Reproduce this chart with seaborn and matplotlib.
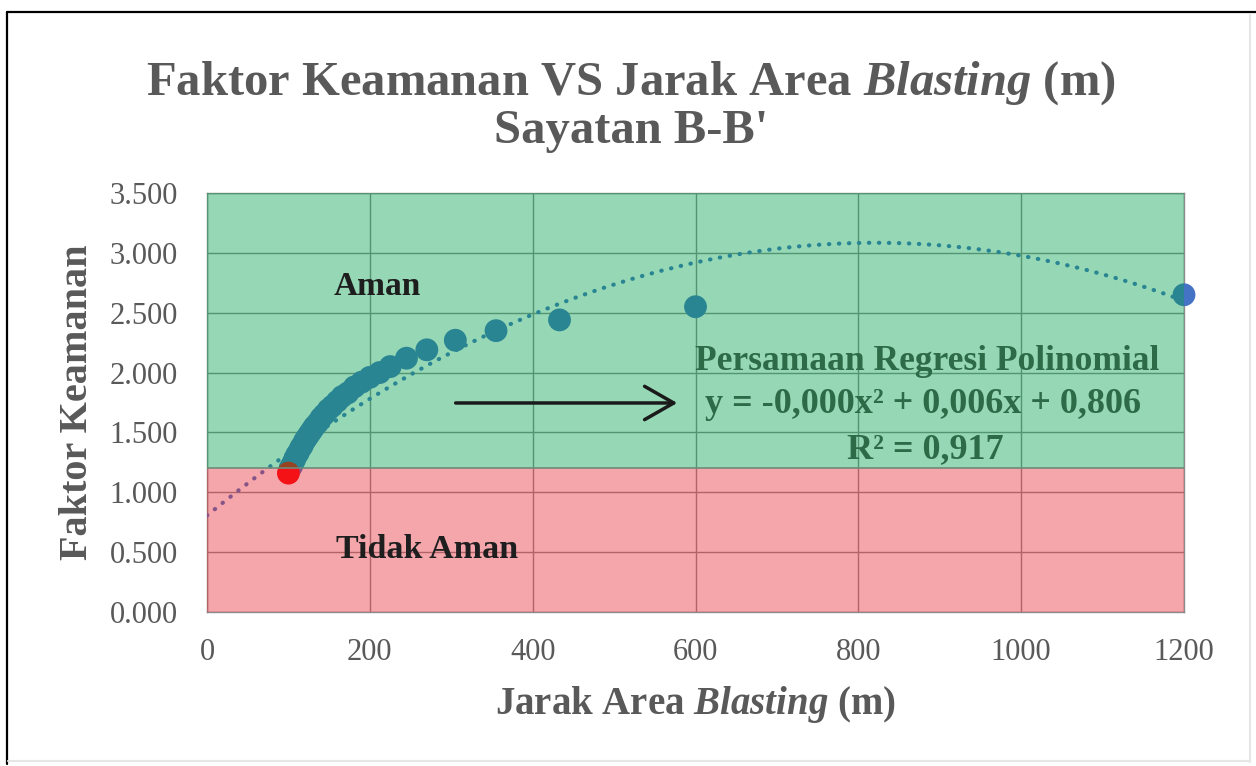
import numpy as np
import pandas as pd
import matplotlib
matplotlib.use('Agg')
import matplotlib.pyplot as plt
from matplotlib.lines import Line2D
import seaborn as sns

# data (jarak in m, faktor keamanan)
jarak = [1200, 600, 433, 355, 305, 270, 245, 225, 212, 200, 190, 181, 173, 166,
         160, 154, 149, 144, 140, 136, 132, 129, 126, 123, 120, 117, 115, 112,
         110, 108, 106, 104, 102]
fk = [2.65, 2.55, 2.44, 2.35, 2.27, 2.19, 2.12, 2.05, 2.00, 1.96, 1.92, 1.88, 1.83, 1.80,
      1.76, 1.72, 1.69, 1.65, 1.62, 1.58, 1.55, 1.52, 1.49, 1.46, 1.43, 1.39, 1.37, 1.33,
      1.31, 1.28, 1.25, 1.22, 1.20]
jarak_kritis = [100]
fk_kritis = [1.16]

# polynomial trendline y = a x^2 + b x + c (shown rounded on chart)
trend_coef = [-3.38e-6, 0.00555, 0.806]
batas_aman = 1.2

x_ticks = [0, 200, 400, 600, 800, 1000, 1200]
y_ticks = [0.0, 0.5, 1.0, 1.5, 2.0, 2.5, 3.0, 3.5]
y_ticklabels = [f'{v:.3f}' for v in y_ticks]

sns.set_theme(style='white')
plt.rcParams['font.family'] = ['Liberation Serif', 'DejaVu Serif']
plt.rcParams['mathtext.fontset'] = 'custom'
plt.rcParams['mathtext.rm'] = 'Liberation Serif:bold'
plt.rcParams['mathtext.bf'] = 'Liberation Serif:bold'
plt.rcParams['mathtext.it'] = 'Liberation Serif:italic:bold'

titik = pd.DataFrame({'jarak': jarak, 'fk': fk})
kritis = pd.DataFrame({'jarak': jarak_kritis, 'fk': fk_kritis})
x_line = np.linspace(0, 1200, 400)
garis = pd.DataFrame({'jarak': x_line, 'fk': np.polyval(trend_coef, x_line)})

fig = plt.figure(figsize=(12.56, 7.66), dpi=100)
ax = fig.add_axes([207 / 1256, 1 - 612 / 766, 977 / 1256, 419 / 766])

# grid below everything
ax.set_axisbelow(True)
ax.grid(True, color='#8c8c8c', lw=1.0)

sns.lineplot(data=garis, x='jarak', y='fk', ax=ax, color='#4472C4', lw=3.0,
             linestyle=(0, (0.1, 2.3)), dash_capstyle='round', zorder=3)
sns.scatterplot(data=titik, x='jarak', y='fk', ax=ax, color='#4472C4', s=270,
                edgecolor='none', zorder=4, clip_on=False)
sns.scatterplot(data=kritis, x='jarak', y='fk', ax=ax, color='#FF0000', s=270,
                edgecolor='none', zorder=4, clip_on=False)

# translucent safety bands drawn over the data
ax.axhspan(batas_aman, 3.5, color='#05A04F', alpha=0.42, lw=0, zorder=5)
ax.axhspan(0, batas_aman, color='#E52B37', alpha=0.42, lw=0, zorder=5)
ax.axhline(batas_aman, color='#6f8a78', lw=1.2, zorder=6)

ax.set_xlim(0, 1200)
ax.set_ylim(0, 3.5)
ax.set_xticks(x_ticks)
ax.set_yticks(y_ticks)
ax.set_yticklabels(y_ticklabels)
ax.tick_params(axis='both', labelsize=22, colors='#595959', length=0)
ax.tick_params(axis='y', pad=21)
ax.tick_params(axis='x', pad=19)
for sp in ax.spines.values():
    sp.set_color('#8c8c8c')
    sp.set_linewidth(1.0)

ax.set_xlabel(r'Jarak Area $\mathit{Blasting}$ (m)', fontsize=28, fontweight='bold',
              color='#595959', labelpad=12)
ax.set_ylabel('Faktor Keamanan', fontsize=29, fontweight='bold', color='#595959',
              labelpad=10)

ax.text(209, 2.715, 'Aman', fontsize=24, fontweight='bold', color='#1e1e1e',
        ha='center', va='center', zorder=7)
ax.text(270, 0.526, 'Tidak Aman', fontsize=24.5, fontweight='bold', color='#1e1e1e',
        ha='center', va='center', zorder=7)

hijau = '#2D6A48'
ax.text(884, 2.09, 'Persamaan Regresi Polinomial', fontsize=25.5, fontweight='bold',
        color=hijau, ha='center', va='center', zorder=7)
ax.text(880, 1.73, 'y = -0,000x² + 0,006x + 0,806', fontsize=26, fontweight='bold',
        color=hijau, ha='center', va='center', zorder=7)
ax.text(882, 1.353, 'R² = 0,917', fontsize=26, fontweight='bold',
        color=hijau, ha='center', va='center', zorder=7)

ax.annotate('', xy=(581, 1.746), xytext=(302, 1.746),
            arrowprops=dict(arrowstyle='->,head_length=1.4,head_width=0.8',
                            lw=2.5, color='#1a1a1a', mutation_scale=15),
            zorder=7)

fig.text(0.5025, 1 - 83 / 766, r'Faktor Keamanan VS Jarak Area $\mathit{Blasting}$ (m)',
         fontsize=35, fontweight='bold', color='#595959', ha='center', va='center')
fig.text(0.5025, 1 - 131 / 766, "Sayatan B-B'", fontsize=35, fontweight='bold',
         color='#595959', ha='center', va='center')

# outer frame of the picture
fig.add_artist(Line2D([7 / 1256, 7 / 1256], [0.003, 1 - 12 / 766], transform=fig.transFigure,
                      color='black', lw=1.6))
fig.add_artist(Line2D([7 / 1256, 1.0], [1 - 12 / 766, 1 - 12 / 766], transform=fig.transFigure,
                      color='black', lw=1.6))
fig.add_artist(Line2D([1250 / 1256, 1250 / 1256], [0.005, 1 - 14 / 766], transform=fig.transFigure,
                      color='#e6e6e6', lw=1.5))
fig.add_artist(Line2D([8 / 1256, 1250 / 1256], [5 / 766, 5 / 766], transform=fig.transFigure,
                      color='#e6e6e6', lw=1.5))

fig.savefig('out.png', dpi=100)
